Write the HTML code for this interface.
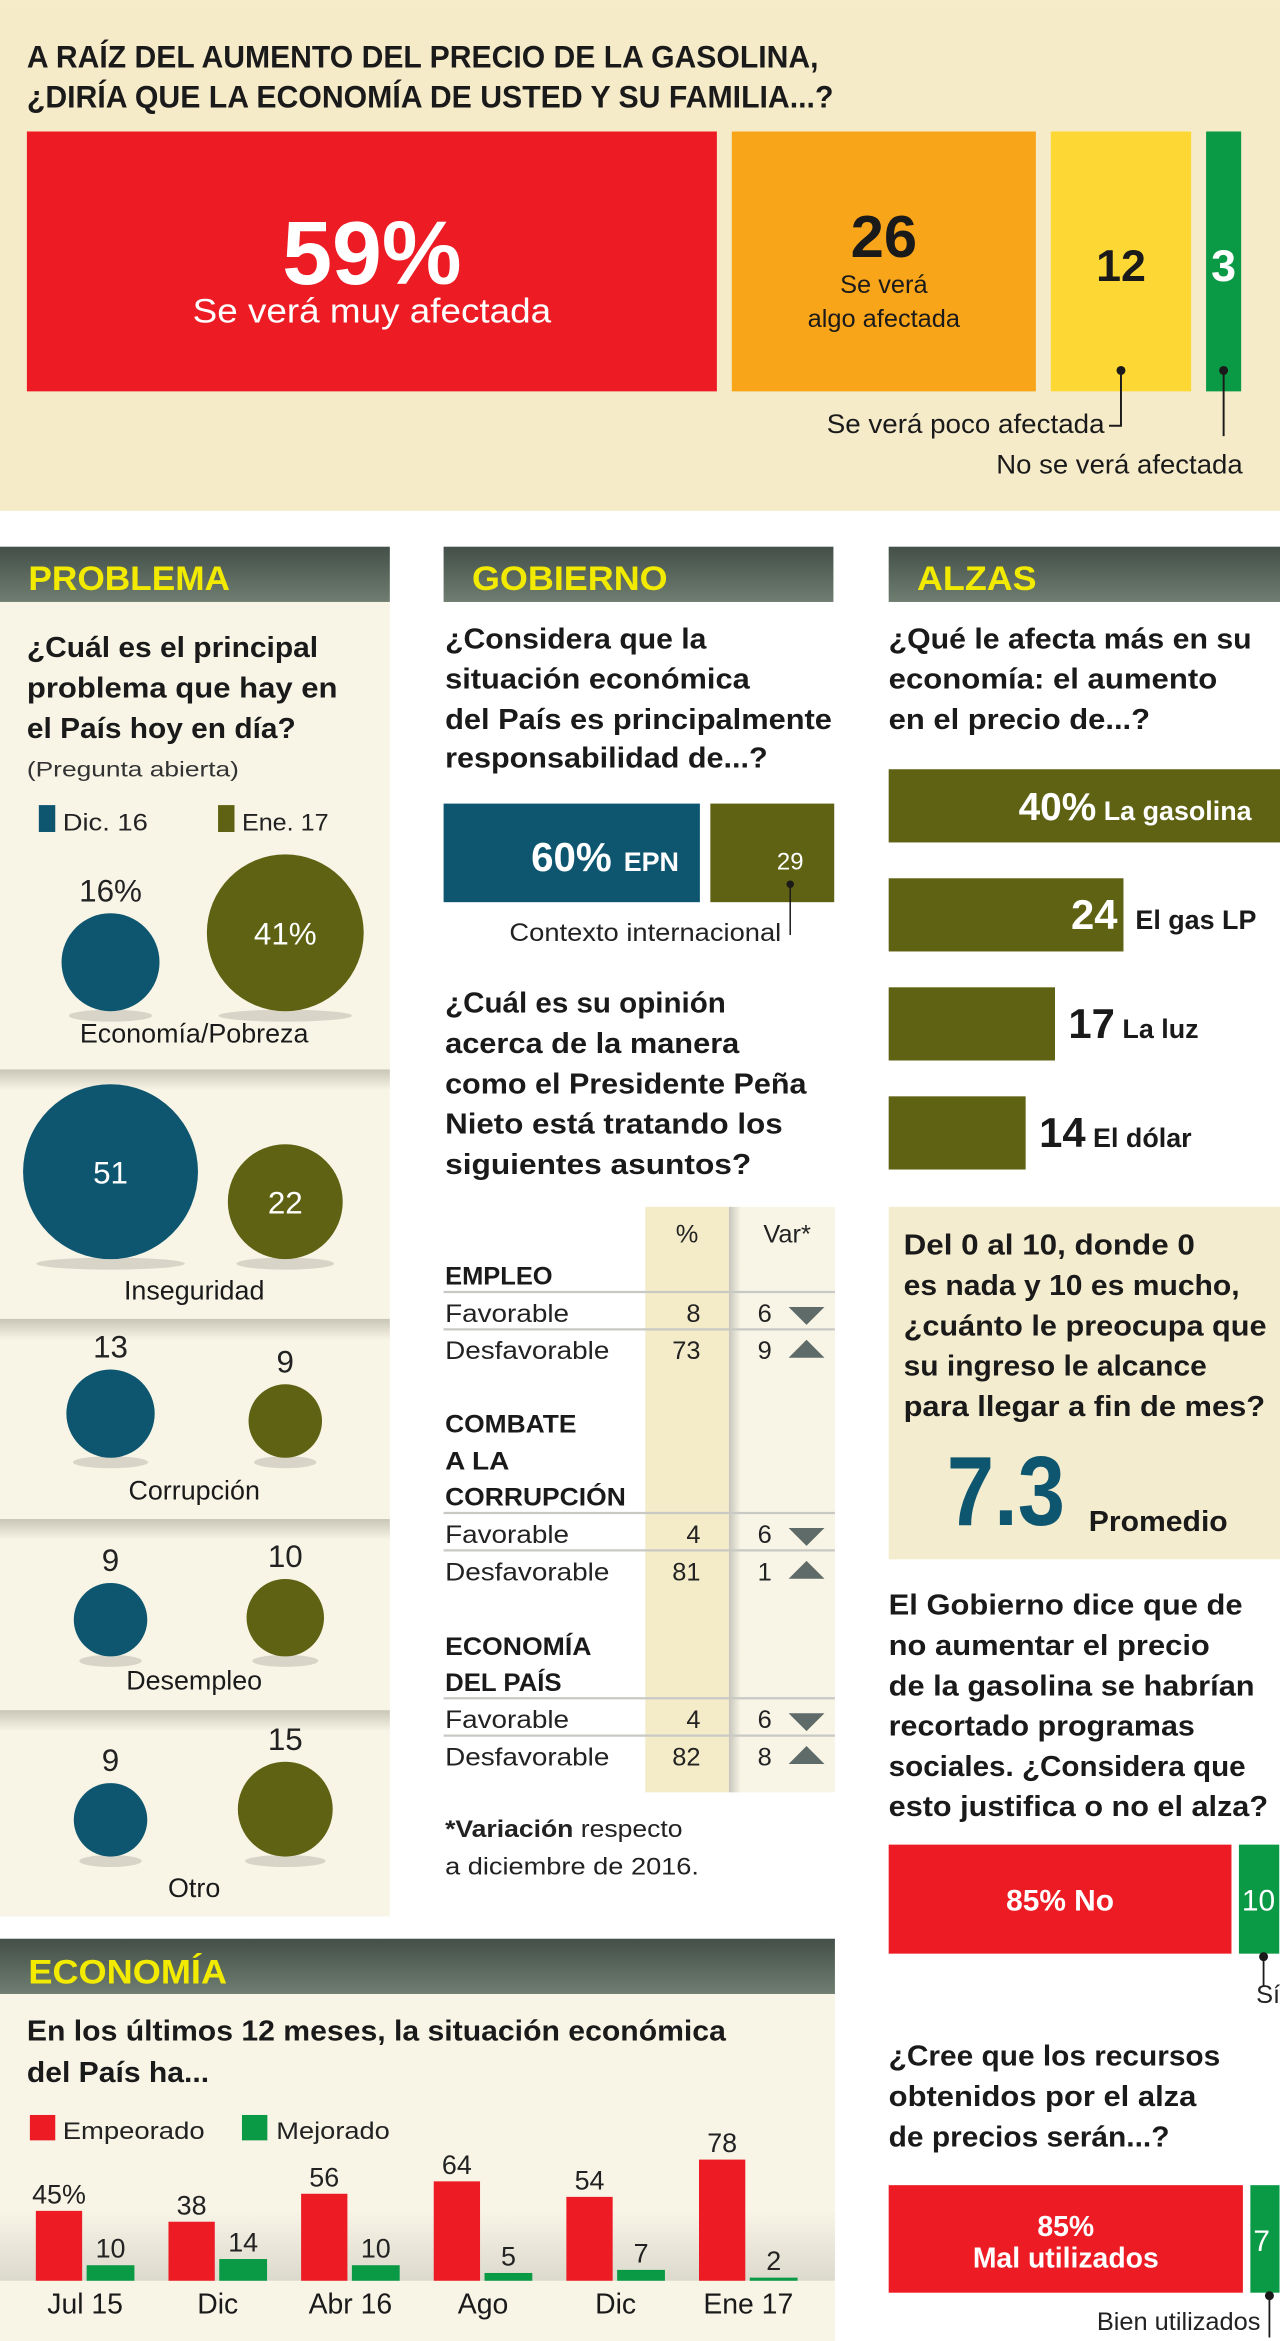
<!DOCTYPE html>
<html lang="es"><head><meta charset="utf-8"><title>Encuesta gasolina</title>
<style>
html,body{margin:0;padding:0;background:#fff;}
body{width:1280px;height:2341px;overflow:hidden;}
svg{display:block;}
text{font-family:"Liberation Sans Narrow","Liberation Sans",sans-serif;}
.b{font-weight:bold;}
.q{font-weight:bold;font-size:19px;fill:#1a1a1a;}
.r{font-size:16px;fill:#222;}
.hd{font-weight:bold;font-size:23px;fill:#f2ea00;}
</style></head>
<body>
<svg id="page" width="1280" height="2341" viewBox="0 0 857 1567.3" xmlns="http://www.w3.org/2000/svg">
<defs>
<linearGradient id="hdg" x1="0" y1="0" x2="0" y2="1"><stop offset="0" stop-color="#434f48"/><stop offset="1" stop-color="#6f7e71"/></linearGradient>
<linearGradient id="sep" x1="0" y1="0" x2="0" y2="1"><stop offset="0" stop-color="#c9c6b8"/><stop offset="1" stop-color="#f8f5e7"/></linearGradient>
<linearGradient id="varsh" x1="0" y1="0" x2="1" y2="0"><stop offset="0" stop-color="#c8c6bc"/><stop offset="1" stop-color="#f8f5e7"/></linearGradient>
<linearGradient id="basesh" x1="0" y1="0" x2="0" y2="1"><stop offset="0" stop-color="#f8f5e7"/><stop offset="1" stop-color="#dcd9cd"/></linearGradient>
</defs>

<!-- TOP SECTION -->
<rect x="0" y="0" width="857" height="342" fill="#f6ebc9"/>
<text class="b" x="18" y="45" font-size="21" fill="#1a1a1a" textLength="530" lengthAdjust="spacingAndGlyphs">A RAÍZ DEL AUMENTO DEL PRECIO DE LA GASOLINA,</text>
<text class="b" x="18" y="72" font-size="21" fill="#1a1a1a" textLength="540" lengthAdjust="spacingAndGlyphs">¿DIRÍA QUE LA ECONOMÍA DE USTED Y SU FAMILIA...?</text>
<g id="topchart"></g>

<!-- HEADERS -->
<rect x="0" y="366" width="261" height="37" fill="url(#hdg)"/>
<text class="hd" x="19" y="395" textLength="135" lengthAdjust="spacingAndGlyphs">PROBLEMA</text>
<rect x="297" y="366" width="261" height="37" fill="url(#hdg)"/>
<text class="hd" x="316" y="395" textLength="131" lengthAdjust="spacingAndGlyphs">GOBIERNO</text>
<rect x="595" y="366" width="262" height="37" fill="url(#hdg)"/>
<text class="hd" x="614" y="395" textLength="80" lengthAdjust="spacingAndGlyphs">ALZAS</text>

<!-- PROBLEMA PANEL -->
<rect x="0" y="403" width="261" height="880" fill="#f8f5e7"/>
<rect x="0" y="716" width="261" height="14" fill="url(#sep)"/>
<rect x="0" y="883" width="261" height="14" fill="url(#sep)"/>
<rect x="0" y="1017" width="261" height="14" fill="url(#sep)"/>
<rect x="0" y="1145" width="261" height="14" fill="url(#sep)"/>
<text class="q" x="18" y="440" textLength="195" lengthAdjust="spacingAndGlyphs">¿Cuál es el principal</text>
<text class="q" x="18" y="467" textLength="208" lengthAdjust="spacingAndGlyphs">problema que hay en</text>
<text class="q" x="18" y="494" textLength="180" lengthAdjust="spacingAndGlyphs">el País hoy en día?</text>
<text x="18" y="520" font-size="14" fill="#333" textLength="142" lengthAdjust="spacingAndGlyphs">(Pregunta abierta)</text>
<rect x="26" y="539" width="11" height="18" fill="#0e5670"/>
<text class="r" x="42" y="556" font-size="17" textLength="57" lengthAdjust="spacingAndGlyphs">Dic. 16</text>
<rect x="146" y="539" width="11" height="18" fill="#5e6212"/>
<text class="r" x="162" y="556" font-size="17" textLength="58" lengthAdjust="spacingAndGlyphs">Ene. 17</text>
<g id="bubbles"></g>

<!-- GOBIERNO -->
<text class="q" x="298" y="434" textLength="175" lengthAdjust="spacingAndGlyphs">¿Considera que la</text>
<text class="q" x="298" y="461" textLength="204" lengthAdjust="spacingAndGlyphs">situación económica</text>
<text class="q" x="298" y="488" textLength="259" lengthAdjust="spacingAndGlyphs">del País es principalmente</text>
<text class="q" x="298" y="514" textLength="216" lengthAdjust="spacingAndGlyphs">responsabilidad de...?</text>
<g id="gobchart"></g>
<text class="q" x="298" y="678" textLength="188" lengthAdjust="spacingAndGlyphs">¿Cuál es su opinión</text>
<text class="q" x="298" y="705" textLength="197" lengthAdjust="spacingAndGlyphs">acerca de la manera</text>
<text class="q" x="298" y="732" textLength="242" lengthAdjust="spacingAndGlyphs">como el Presidente Peña</text>
<text class="q" x="298" y="759" textLength="226" lengthAdjust="spacingAndGlyphs">Nieto está tratando los</text>
<text class="q" x="298" y="786" textLength="205" lengthAdjust="spacingAndGlyphs">siguientes asuntos?</text>

<g>
<rect x="432" y="808" width="56" height="392" fill="#f4ecc9"/>
<rect x="488" y="808" width="71" height="392" fill="#f8f5e7"/>
<rect x="488" y="808" width="8" height="392" fill="url(#varsh)"/>
<text x="460" y="832" font-size="17" text-anchor="middle" fill="#222">%</text>
<text x="527" y="832" font-size="17" text-anchor="middle" fill="#222">Var*</text>
<g fill="none" stroke="#c9c9c4" stroke-width="1.5">
<line x1="297" y1="865" x2="559" y2="865"/><line x1="297" y1="890" x2="559" y2="890"/>
<line x1="297" y1="1013" x2="559" y2="1013"/><line x1="297" y1="1038" x2="559" y2="1038"/>
<line x1="297" y1="1137" x2="559" y2="1137"/><line x1="297" y1="1162" x2="559" y2="1162"/>
</g>
<g font-weight="bold" font-size="17" fill="#1a1a1a">
<text x="298" y="860" textLength="72" lengthAdjust="spacingAndGlyphs">EMPLEO</text>
<text x="298" y="959" textLength="88" lengthAdjust="spacingAndGlyphs">COMBATE</text>
<text x="298" y="984" textLength="43" lengthAdjust="spacingAndGlyphs">A LA</text>
<text x="298" y="1008" textLength="121" lengthAdjust="spacingAndGlyphs">CORRUPCIÓN</text>
<text x="298" y="1108" textLength="98" lengthAdjust="spacingAndGlyphs">ECONOMÍA</text>
<text x="298" y="1132" textLength="78" lengthAdjust="spacingAndGlyphs">DEL PAÍS</text>
</g>
<g font-size="17" fill="#222">
<text x="298" y="885" textLength="83" lengthAdjust="spacingAndGlyphs">Favorable</text>
<text x="298" y="910" textLength="110" lengthAdjust="spacingAndGlyphs">Desfavorable</text>
<text x="298" y="1033" textLength="83" lengthAdjust="spacingAndGlyphs">Favorable</text>
<text x="298" y="1058" textLength="110" lengthAdjust="spacingAndGlyphs">Desfavorable</text>
<text x="298" y="1157" textLength="83" lengthAdjust="spacingAndGlyphs">Favorable</text>
<text x="298" y="1182" textLength="110" lengthAdjust="spacingAndGlyphs">Desfavorable</text>
<g text-anchor="end">
<text x="469" y="885">8</text><text x="469" y="910">73</text>
<text x="469" y="1033">4</text><text x="469" y="1058">81</text>
<text x="469" y="1157">4</text><text x="469" y="1182">82</text>
</g>
<g text-anchor="middle">
<text x="512" y="885">6</text><text x="512" y="910">9</text>
<text x="512" y="1033">6</text><text x="512" y="1058">1</text>
<text x="512" y="1157">6</text><text x="512" y="1182">8</text>
</g>
</g>
<g fill="#5f6b68">
<polygon points="528,875 552,875 540,887"/>
<polygon points="528,909 552,909 540,897"/>
<polygon points="528,1023 552,1023 540,1035"/>
<polygon points="528,1057 552,1057 540,1045"/>
<polygon points="528,1147 552,1147 540,1159"/>
<polygon points="528,1181 552,1181 540,1169"/>
</g>
</g>
<text x="298" y="1230" font-size="16" fill="#222" textLength="159" lengthAdjust="spacingAndGlyphs"><tspan font-weight="bold">*Variación</tspan> respecto</text>
<text x="298" y="1255" font-size="16" fill="#222" textLength="170" lengthAdjust="spacingAndGlyphs">a diciembre de 2016.</text>

<!-- ALZAS -->
<text class="q" x="595" y="434" textLength="243" lengthAdjust="spacingAndGlyphs">¿Qué le afecta más en su</text>
<text class="q" x="595" y="461" textLength="220" lengthAdjust="spacingAndGlyphs">economía: el aumento</text>
<text class="q" x="595" y="488" textLength="175" lengthAdjust="spacingAndGlyphs">en el precio de...?</text>
<g id="alzaschart"></g>

<rect x="595" y="808" width="262" height="236" fill="#f4ecce"/>
<text class="q" x="605" y="840" textLength="195" lengthAdjust="spacingAndGlyphs">Del 0 al 10, donde 0</text>
<text class="q" x="605" y="867" textLength="225" lengthAdjust="spacingAndGlyphs">es nada y 10 es mucho,</text>
<text class="q" x="605" y="894" textLength="243" lengthAdjust="spacingAndGlyphs">¿cuánto le preocupa que</text>
<text class="q" x="605" y="921" textLength="203" lengthAdjust="spacingAndGlyphs">su ingreso le alcance</text>
<text class="q" x="605" y="948" textLength="242" lengthAdjust="spacingAndGlyphs">para llegar a fin de mes?</text>
<text class="b" x="634" y="1021" font-size="66" fill="#0e5670" textLength="79" lengthAdjust="spacingAndGlyphs">7.3</text>
<text class="b" x="729" y="1025" font-size="19" fill="#1a1a1a" textLength="93" lengthAdjust="spacingAndGlyphs">Promedio</text>

<text class="q" x="595" y="1081" textLength="237" lengthAdjust="spacingAndGlyphs">El Gobierno dice que de</text>
<text class="q" x="595" y="1108" textLength="215" lengthAdjust="spacingAndGlyphs">no aumentar el precio</text>
<text class="q" x="595" y="1135" textLength="245" lengthAdjust="spacingAndGlyphs">de la gasolina se habrían</text>
<text class="q" x="595" y="1162" textLength="205" lengthAdjust="spacingAndGlyphs">recortado programas</text>
<text class="q" x="595" y="1189" textLength="239" lengthAdjust="spacingAndGlyphs">sociales. ¿Considera que</text>
<text class="q" x="595" y="1216" textLength="254" lengthAdjust="spacingAndGlyphs">esto justifica o no el alza?</text>
<g id="justchart"></g>
<text class="q" x="595" y="1383" textLength="222" lengthAdjust="spacingAndGlyphs">¿Cree que los recursos</text>
<text class="q" x="595" y="1410" textLength="206" lengthAdjust="spacingAndGlyphs">obtenidos por el alza</text>
<text class="q" x="595" y="1437" textLength="188" lengthAdjust="spacingAndGlyphs">de precios serán...?</text>
<g id="recchart"></g>

<!-- ECONOMIA -->
<rect x="0" y="1298" width="559" height="37" fill="url(#hdg)"/>
<text class="hd" x="19" y="1328" textLength="133" lengthAdjust="spacingAndGlyphs">ECONOMÍA</text>
<rect x="0" y="1335" width="559" height="233" fill="#f8f5e7"/>
<rect x="0" y="1480" width="559" height="47" fill="url(#basesh)"/>
<text class="q" x="18" y="1366" textLength="468" lengthAdjust="spacingAndGlyphs">En los últimos 12 meses, la situación económica</text>
<text class="q" x="18" y="1394" textLength="122" lengthAdjust="spacingAndGlyphs">del País ha...</text>
<rect x="20" y="1416" width="17" height="17" fill="#ed1c24"/>
<text class="r" x="42" y="1432" font-size="17" textLength="95" lengthAdjust="spacingAndGlyphs">Empeorado</text>
<rect x="162" y="1416" width="17" height="17" fill="#0a9a45"/>
<text class="r" x="185" y="1432" font-size="17" textLength="76" lengthAdjust="spacingAndGlyphs">Mejorado</text>
<g id="ecochart"></g>
</svg>

<script>
// ---- data ----
var topValues = [59, 26, 12, 3];
var topLabels = ["Se verá muy afectada", "Se verá algo afectada", "Se verá poco afectada", "No se verá afectada"];
var bubbleCategories = ["Economía/Pobreza", "Inseguridad", "Corrupción", "Desempleo", "Otro"];
var bubbleDic16 = [16, 51, 13, 9, 9];
var bubbleEne17 = [41, 22, 9, 10, 15];
var gobCategories = ["EPN", "Contexto internacional"];
var gobValues = [60, 29];
var alzasCategories = ["La gasolina", "El gas LP", "La luz", "El dólar"];
var alzasValues = [40, 24, 17, 14];
var justCategories = ["No", "Sí"];
var justValues = [85, 10];
var recCategories = ["Mal utilizados", "Bien utilizados"];
var recValues = [85, 7];
var ecoCategories = ["Jul 15", "Dic", "Abr 16", "Ago", "Dic", "Ene 17"];
var ecoEmpeorado = [45, 38, 56, 64, 54, 78];
var ecoMejorado = [10, 14, 10, 5, 7, 2];

var NS = "http://www.w3.org/2000/svg";
function mk(parent, tag, attrs, txt) {
  var e = document.createElementNS(NS, tag);
  for (var k in attrs) e.setAttribute(k, attrs[k]);
  if (txt !== undefined) e.textContent = txt;
  parent.appendChild(e);
  return e;
}
var FONT = '"Liberation Sans Narrow","Liberation Sans",sans-serif';

// ---- top chart ----
(function () {
  var g = document.getElementById("topchart");
  var x0 = 18, gap = 10, y0 = 88, h = 174;
  var sx = function (v) { return v * 7.83; };
  var colors = ["#ed1c24", "#f9a51a", "#fdd835", "#0a9a45"];
  var x = x0;
  for (var i = 0; i < topValues.length; i++) {
    var w = sx(topValues[i]);
    var r = mk(g, "rect", { x: x, y: y0, width: w, height: h, fill: colors[i] });
    
    
    var cx = x + w / 2;
    if (i === 0) {
      var t = mk(g, "text", { x: cx, y: 190, "text-anchor": "middle", "font-size": 60, "font-weight": "bold", fill: "#fff", "font-family": FONT }, topValues[i] + "%");
      
      
      var l = mk(g, "text", { x: cx, y: 216, "text-anchor": "middle", "font-size": 23, fill: "#fff", "font-family": FONT, textLength: 240, lengthAdjust: "spacingAndGlyphs" }, topLabels[i]);
      
      
    } else if (i === 1) {
      var t2 = mk(g, "text", { x: cx, y: 172, "text-anchor": "middle", "font-size": 40, "font-weight": "bold", fill: "#1a1a1a", "font-family": FONT }, topValues[i]);
      
      
      var l1 = mk(g, "text", { x: cx, y: 196, "text-anchor": "middle", "font-size": 17, fill: "#1a1a1a", "font-family": FONT }, "Se verá");
      
      
      var l2 = mk(g, "text", { x: cx, y: 219, "text-anchor": "middle", "font-size": 17, fill: "#1a1a1a", "font-family": FONT }, "algo afectada");
      
      
    } else {
      var dark = i === 2;
      var t3 = mk(g, "text", { x: cx, y: 188, "text-anchor": "middle", "font-size": 30, "font-weight": "bold", fill: dark ? "#1a1a1a" : "#fff", "font-family": FONT }, topValues[i]);
      
      
      mk(g, "circle", { cx: cx, cy: 248, r: 3, fill: "#1a1a1a" });
      if (dark) {
        mk(g, "polyline", { points: cx + ",248 " + cx + ",285 " + (cx - 8) + ",285", fill: "none", stroke: "#1a1a1a", "stroke-width": 1.3 });
        var l3 = mk(g, "text", { x: cx - 11, y: 290, "text-anchor": "end", "font-size": 18, fill: "#1a1a1a", "font-family": FONT, textLength: 186, lengthAdjust: "spacingAndGlyphs" }, topLabels[i]);
        
        
      } else {
        mk(g, "line", { x1: cx, y1: 248, x2: cx, y2: 292, stroke: "#1a1a1a", "stroke-width": 1.3 });
        var l4 = mk(g, "text", { x: 832, y: 317, "text-anchor": "end", "font-size": 18, fill: "#1a1a1a", "font-family": FONT, textLength: 165, lengthAdjust: "spacingAndGlyphs" }, topLabels[i]);
        
        
      }
    }
    x += w + gap;
  }
})();

// ---- bubbles ----
(function () {
  var g = document.getElementById("bubbles");
  var bases = [677, 843, 976, 1109, 1243];
  var labelY = [698, 870, 1004, 1131, 1270];
  var rs = function (v) { return 8.2 * Math.sqrt(v); };
  var cxs = [74, 191];
  var cols = ["#0e5670", "#5e6212"];
  for (var i = 0; i < bubbleCategories.length; i++) {
    var vals = [bubbleDic16[i], bubbleEne17[i]];
    for (var j = 0; j < 2; j++) {
      var r = rs(vals[j]);
      var cy = bases[i] - r;
      mk(g, "ellipse", { cx: cxs[j], cy: bases[i] + 3, rx: r * 0.85, ry: 4, fill: "#d8d5c8" });
      var c = mk(g, "circle", { cx: cxs[j], cy: cy, r: r, fill: cols[j] });
      
      
      var txt = vals[j] + (i === 0 ? "%" : "");
      var inside = r > 35;
      var t = mk(g, "text", { x: cxs[j], y: inside ? cy + 8 : cy - r - 8, "text-anchor": "middle", "font-size": 21, fill: inside ? "#fff" : "#222", "font-family": FONT }, txt);
      
      
    }
    var lab = mk(g, "text", { x: 130, y: labelY[i], "text-anchor": "middle", "font-size": 18, fill: "#1a1a1a", "font-family": FONT }, bubbleCategories[i]);
    
    
  }
})();

// ---- gobierno ----
(function () {
  var g = document.getElementById("gobchart");
  var sx = function (v) { return v * 2.86; };
  var w0 = sx(gobValues[0]), w1 = sx(gobValues[1]);
  var b0 = mk(g, "rect", { x: 297, y: 538, width: w0, height: 66, fill: "#0e5670" });
  
  
  var x1 = 297 + w0 + 7;
  var b1 = mk(g, "rect", { x: x1, y: 538, width: w1, height: 66, fill: "#5e6212" });
  
  
  var t = mk(g, "text", { x: 297 + w0 - 14, y: 583, "text-anchor": "end", fill: "#fff", "font-weight": "bold", "font-family": FONT });
  
  
  mk(t, "tspan", { "font-size": 27 }, gobValues[0] + "%");
  mk(t, "tspan", { "font-size": 18, dx: 3 }, " " + gobCategories[0]);
  var t2 = mk(g, "text", { x: x1 + w1 / 2 + 12, y: 582, "text-anchor": "middle", fill: "#fff", "font-size": 16, "font-family": FONT }, gobValues[1]);
  
  
  var cx = x1 + w1 / 2 + 12;
  mk(g, "circle", { cx: cx, cy: 592, r: 2.5, fill: "#1a1a1a" });
  mk(g, "line", { x1: cx, y1: 592, x2: cx, y2: 626, stroke: "#1a1a1a", "stroke-width": 1 });
  var t3 = mk(g, "text", { x: cx - 6, y: 630, "text-anchor": "end", "font-size": 17, fill: "#222", "font-family": FONT, textLength: 182, lengthAdjust: "spacingAndGlyphs" }, gobCategories[1]);
  
  
})();

// ---- alzas ----
(function () {
  var g = document.getElementById("alzaschart");
  var sx = function (v) { return v * 6.55; };
  var ys = [515, 588, 661, 734];
  for (var i = 0; i < alzasValues.length; i++) {
    var w = sx(alzasValues[i]);
    var b = mk(g, "rect", { x: 595, y: ys[i], width: w, height: 49, fill: "#5e6212" });
    
    
    var by = ys[i] + 34;
    if (i === 0) {
      var t = mk(g, "text", { x: 838, y: by, "text-anchor": "end", fill: "#fff", "font-weight": "bold", "font-family": FONT });
      
      
      mk(t, "tspan", { "font-size": 26 }, alzasValues[i] + "%");
      mk(t, "tspan", { "font-size": 18 }, " " + alzasCategories[i]);
    } else if (i === 1) {
      var tv = mk(g, "text", { x: 595 + w - 4, y: by, "text-anchor": "end", fill: "#fff", "font-weight": "bold", "font-size": 28, "font-family": FONT }, alzasValues[i]);
      
      
      var tl = mk(g, "text", { x: 595 + w + 8, y: by, fill: "#1a1a1a", "font-weight": "bold", "font-size": 18, "font-family": FONT }, alzasCategories[i]);
      
      
    } else {
      var t2 = mk(g, "text", { x: 595 + w + 9, y: by, fill: "#1a1a1a", "font-weight": "bold", "font-family": FONT });
      
      
      mk(t2, "tspan", { "font-size": 28 }, alzasValues[i]);
      mk(t2, "tspan", { "font-size": 18 }, " " + alzasCategories[i]);
    }
  }
})();

// ---- split bars ----
function splitBar(id, vals, cats, y, h, scale, twoLine) {
  var g = document.getElementById(id);
  var w0 = vals[0] * scale, w1 = vals[1] * scale;
  var r0 = mk(g, "rect", { x: 595, y: y, width: w0, height: h, fill: "#ed1c24" });
  
  
  var x1 = 595 + w0 + 5;
  var r1 = mk(g, "rect", { x: x1, y: y, width: w1, height: h, fill: "#0a9a45" });
  
  
  var cx = 595 + w0 / 2;
  if (twoLine) {
    var a = mk(g, "text", { x: cx, y: y + 34, "text-anchor": "middle", fill: "#fff", "font-weight": "bold", "font-size": 19, "font-family": FONT }, vals[0] + "%");
    
    
    var b = mk(g, "text", { x: cx, y: y + 55, "text-anchor": "middle", fill: "#fff", "font-weight": "bold", "font-size": 19, "font-family": FONT }, cats[0]);
    
    
  } else {
    var c = mk(g, "text", { x: cx, y: y + 44, "text-anchor": "middle", fill: "#fff", "font-weight": "bold", "font-size": 20, "font-family": FONT }, vals[0] + "% " + cats[0]);
    
    
  }
  var gx = x1 + w1 / 2;
  var d = mk(g, "text", { x: x1 + 2, y: y + 44, fill: "#fff", "font-size": 20, "font-family": FONT }, vals[1]);
  
  
  var dx = Math.min(gx + 3, 851);
  mk(g, "circle", { cx: dx, cy: y + h + 2, r: 3, fill: "#1a1a1a" });
  mk(g, "line", { x1: dx, y1: y + h + 2, x2: dx, y2: y + h + (twoLine ? 30 : 22), stroke: "#1a1a1a", "stroke-width": 1.2 });
  var e = mk(g, "text", { x: twoLine ? dx - 6 : dx - 5, y: twoLine ? y + h + 25 : y + h + 33, "text-anchor": twoLine ? "end" : "start", fill: "#222", "font-size": 17, "font-family": FONT }, cats[1]);
  
  
}
splitBar("justchart", justValues, justCategories, 1235, 73, 2.7, false);
splitBar("recchart", recValues, recCategories, 1463, 72, 2.79, true);

// ---- economia ----
(function () {
  var g = document.getElementById("ecochart");
  var base = 1527, step = 88.8;
  var sy = function (v) { return v * 1.04; };
  for (var i = 0; i < ecoCategories.length; i++) {
    var xr = 24 + step * i, xg = 58 + step * i;
    var hr = sy(ecoEmpeorado[i]), hg = sy(ecoMejorado[i]);
    var r = mk(g, "rect", { x: xr, y: base - hr, width: 31, height: hr, fill: "#ed1c24" });
    
    
    var gr = mk(g, "rect", { x: xg, y: base - hg, width: 32, height: hg, fill: "#0a9a45" });
    
    
    var tr = mk(g, "text", { x: xr + 15.5, y: base - hr - 5, "text-anchor": "middle", "font-size": 18, fill: "#222", "font-family": FONT }, ecoEmpeorado[i] + (i === 0 ? "%" : ""));
    
    
    var tg = mk(g, "text", { x: xg + 16, y: base - hg - 5, "text-anchor": "middle", "font-size": 18, fill: "#222", "font-family": FONT }, ecoMejorado[i]);
    
    
    var c = mk(g, "text", { x: xr + 33, y: 1549, "text-anchor": "middle", "font-size": 19, fill: "#1a1a1a", "font-family": FONT }, ecoCategories[i]);
    
    
  }
})();
</script>
</body></html>
